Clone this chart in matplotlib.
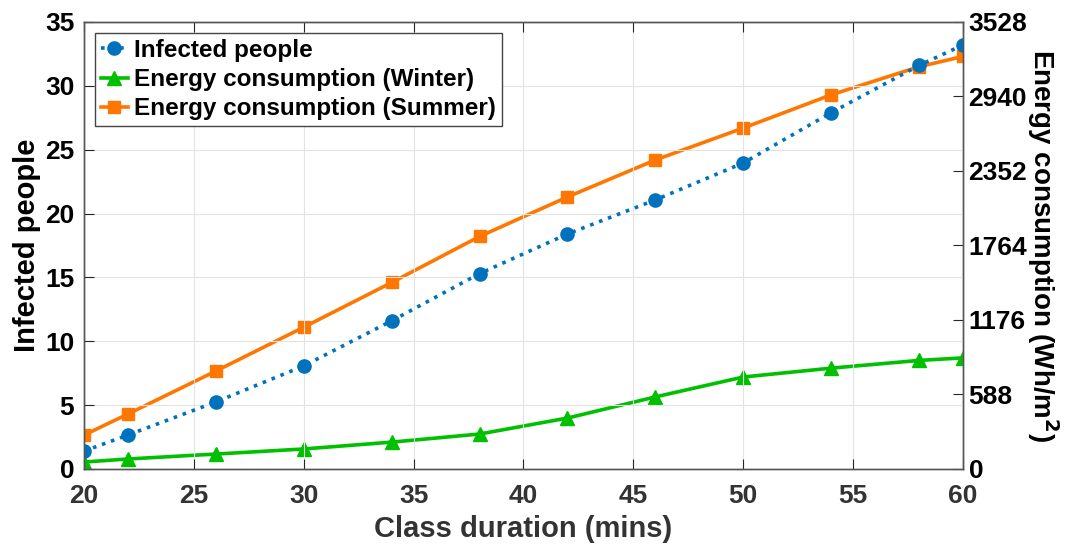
import matplotlib
matplotlib.use('Agg')
import matplotlib.pyplot as plt

plt.rcParams['font.family'] = ['Liberation Sans', 'DejaVu Sans']
plt.rcParams['font.weight'] = 'bold'

# class duration (mins)
duration = [20, 22, 26, 30, 34, 38, 42, 46, 50, 54, 58, 60]
# infected people (left axis)
infected = [1.4, 2.66, 5.25, 8.07, 11.6, 15.3, 18.4, 21.07, 23.96, 27.9, 31.6, 33.2]
# energy consumption Wh/m2 (right axis)
winter = [55, 79, 118, 158, 212, 276, 402, 569, 726, 796, 857, 877]
summer = [268, 434, 773, 1119, 1472, 1835, 2147, 2439, 2691, 2953, 3175, 3256]

blue = '#0072BD'
green = '#00C000'
orange = '#FF7700'
axcol = '#262626'

fig = plt.figure(figsize=(10.7, 5.47), dpi=100)
ax = fig.add_axes([0.0785, 0.1426, 0.8215, 0.8172])
ax2 = ax.twinx()

l1, = ax.plot(duration, infected, ':', color=blue, lw=2.6, marker='o', ms=9.5, label='Infected people')
l2, = ax2.plot(duration, winter, '-', color=green, lw=2.6, marker='^', ms=10, label='Energy consumption (Winter)')
l3, = ax2.plot(duration, summer, '-', color=orange, lw=2.6, marker='s', ms=8, label='Energy consumption (Summer)')
ax.set_zorder(ax2.get_zorder() + 1)
ax.patch.set_visible(False)

ax.set_xlim(20, 60)
ax.set_ylim(0, 35)
ax2.set_ylim(0, 3528)
ax.set_xticks(range(20, 61, 5))
ax.set_yticks(range(0, 36, 5))
ax2.set_yticks([0, 588, 1176, 1764, 2352, 2940, 3528])

ax.grid(True, color='#e3e3e3', lw=0.8)
ax.set_axisbelow(True)

for a in (ax, ax2):
    for s in a.spines.values():
        s.set_color('#555555')
        s.set_linewidth(1.0)
ax.tick_params(axis='x', direction='in', length=7, labelsize=19, colors=axcol, labelcolor='#333333', top=True, pad=11)
ax.tick_params(axis='y', direction='in', length=7, labelsize=19, colors=axcol, labelcolor='black', pad=7)
ax2.tick_params(axis='y', direction='in', length=7, labelsize=19, colors=axcol, labelcolor='black', pad=4)
for lab in ax.get_xticklabels() + ax.get_yticklabels() + ax2.get_yticklabels():
    lab.set_fontweight('bold')

ax.set_xlabel('Class duration (mins)', fontsize=21, fontweight='bold', color='#333333', labelpad=5)
ax.set_ylabel('Infected people', fontsize=21, fontweight='bold', labelpad=3)
ax2.set_ylabel('Energy consumption (Wh/m$^{\\mathbf{2}}$)', fontsize=20, fontweight='bold',
               rotation=270, labelpad=24)

leg = ax.legend(handles=[l1, l2, l3], loc='upper left', prop={'weight': 'bold', 'size': 17.5},
                handlelength=1.1, handletextpad=0.25, labelspacing=0.25, borderpad=0.25,
                fancybox=False, framealpha=1, edgecolor='#444444', borderaxespad=0.45)
leg.get_frame().set_linewidth(1.0)

fig.savefig('out.png', dpi=100)
